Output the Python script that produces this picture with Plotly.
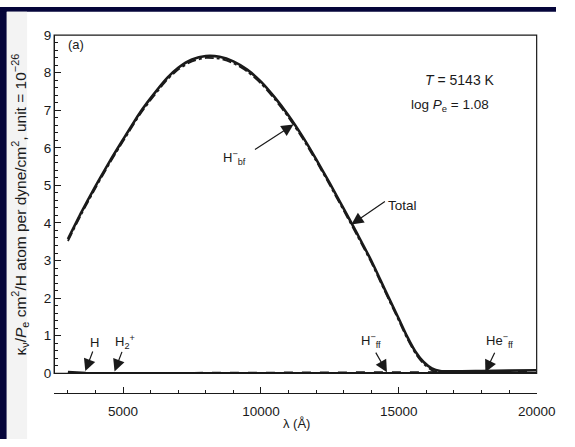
import plotly.graph_objects as go

# ---- data ----
wl_total = [3000, 3500, 4000, 4500, 5000, 5600, 6000, 6600, 7000, 7500, 8000, 8500, 9000, 9500,
            10000, 10500, 11000, 11500, 12000, 12500, 13000, 13500, 14000, 14500, 15000, 15300,
            15600, 15900, 16200, 16500, 17000, 18000, 19000, 20000]
k_total = [3.57, 4.30, 4.98, 5.62, 6.22, 6.92, 7.32, 7.86, 8.13, 8.35, 8.44, 8.42, 8.30, 8.08,
           7.76, 7.34, 6.86, 6.31, 5.70, 5.05, 4.38, 3.70, 3.00, 2.22, 1.45, 0.98,
           0.58, 0.30, 0.13, 0.06, 0.05, 0.06, 0.07, 0.08]

wl_hbf = [3000, 3500, 4000, 4500, 5000, 5600, 6000, 6600, 7000, 7500, 8000, 8500, 9000, 9500,
          10000, 10500, 11000, 11500, 12000, 12500, 13000, 13500, 14000, 14500, 15000, 15300,
          15600, 15900, 16200, 16450]
k_hbf = [3.52, 4.25, 4.93, 5.57, 6.17, 6.87, 7.27, 7.81, 8.08, 8.30, 8.39, 8.37, 8.25, 8.03,
         7.71, 7.29, 6.81, 6.26, 5.65, 5.00, 4.33, 3.65, 2.95, 2.17, 1.40, 0.93,
         0.53, 0.25, 0.08, 0.0]

wl_h = [3000, 3640, 3650, 8200, 8210, 20000]
k_h = [0.035, 0.03, 0.012, 0.008, 0.004, 0.006]

wl_h2p = [3000, 8000, 14000, 20000]
k_h2p = [0.012, 0.010, 0.008, 0.006]

wl_hff = [3000, 8000, 14000, 17000, 20000]
k_hff = [0.005, 0.012, 0.025, 0.035, 0.045]

wl_heff = [3000, 10000, 20000]
k_heff = [0.001, 0.003, 0.008]

x_ticks = [5000, 10000, 15000, 20000]
y_ticks = [0, 1, 2, 3, 4, 5, 6, 7, 8, 9]

# ---- figure ----
W, H = 575, 447
FONT = "Liberation Sans, Arial, Helvetica, sans-serif"
INK = "#1a1a1a"

fig = go.Figure()
fig.add_trace(go.Scatter(x=wl_h, y=k_h, mode="lines", line=dict(color=INK, width=2.2), hoverinfo="skip"))
fig.add_trace(go.Scatter(x=wl_h2p, y=k_h2p, mode="lines", line=dict(color=INK, width=1.2, dash="dot"), hoverinfo="skip"))
fig.add_trace(go.Scatter(x=wl_hff, y=k_hff, mode="lines", line=dict(color=INK, width=1.6, dash="dash"), hoverinfo="skip"))
fig.add_trace(go.Scatter(x=wl_heff, y=k_heff, mode="lines", line=dict(color=INK, width=1.2), hoverinfo="skip"))
fig.add_trace(go.Scatter(x=wl_hbf, y=k_hbf, mode="lines",
                         line=dict(color=INK, width=1.8, dash="dashdot", shape="spline", smoothing=0.6),
                         hoverinfo="skip"))
fig.add_trace(go.Scatter(x=wl_total, y=k_total, mode="lines",
                         line=dict(color=INK, width=2.6, shape="spline", smoothing=0.6),
                         hoverinfo="skip"))

xl, xr = 56 / W, 555 / W
yb, yt = 1 - 379 / H, 1 - 29 / H
xaxis_pos = 1 - 399 / H

fig.update_layout(
    width=W, height=H,
    margin=dict(l=0, r=0, t=0, b=0),
    paper_bgcolor="white", plot_bgcolor="white",
    showlegend=False,
    font=dict(family=FONT, size=13, color=INK),
    xaxis=dict(domain=[xl, xr], range=[2500, 20000], anchor="free", position=xaxis_pos,
               tickvals=x_ticks, tickformat="d", ticks="inside", ticklen=6, tickwidth=1, tickcolor=INK,
               minor=dict(dtick=1000, tick0=0, ticks="inside", ticklen=3, tickcolor=INK),
               showline=True, linecolor=INK, linewidth=1.2, showgrid=False, zeroline=False,
               ticklabelstandoff=6, tickfont=dict(size=13.5, color=INK)),
    yaxis=dict(domain=[yb, yt], range=[0, 9], anchor="free", position=xl,
               tickvals=y_ticks, ticks="inside", ticklen=6, tickwidth=1, tickcolor=INK,
               minor=dict(dtick=0.2, tick0=0, ticks="inside", ticklen=3, tickcolor=INK),
               mirror="ticks", showline=True, linecolor=INK, linewidth=1.2,
               showgrid=False, zeroline=False, tickfont=dict(size=13.5, color=INK)),
)

# plot frame
fig.add_shape(type="rect", xref="x domain", yref="y domain", x0=0, x1=1, y0=0, y1=1,
              line=dict(color=INK, width=1.2), fillcolor="rgba(0,0,0,0)", layer="above")

# navy border and light strip
fig.add_shape(type="rect", xref="paper", yref="paper", x0=0, x1=7 / W, y0=0, y1=1,
              line=dict(width=0), fillcolor="#05053a", layer="below")
fig.add_shape(type="rect", xref="paper", yref="paper", x0=0, x1=1, y0=1 - 5 / H, y1=1,
              line=dict(width=0), fillcolor="#05053a", layer="below")
fig.add_shape(type="rect", xref="paper", yref="paper", x0=7 / W, x1=28 / W, y0=0, y1=1 - 5 / H,
              line=dict(width=0), fillcolor="#f3f3f3", layer="below")

def txt(x, y, s, size=13, xanchor="center", angle=0):
    fig.add_annotation(xref="paper", yref="paper", x=x / W, y=1 - y / H, text=s, showarrow=False,
                       font=dict(family=FONT, size=size, color=INK), xanchor=xanchor, yanchor="middle",
                       textangle=angle)

def arrow(xd, yd, dx, dy):
    fig.add_annotation(x=xd, y=yd, xref="x", yref="y", ax=dx, ay=dy, text="", showarrow=True,
                       arrowhead=2, arrowsize=2, arrowwidth=1.2, arrowcolor=INK, standoff=0)

# axis titles
txt(21, 204, "κ<sub>ν</sub>/<i>P</i><sub>e</sub> cm<sup>2</sup>/H atom per dyne/cm<sup>2</sup>, unit = 10<sup>−26</sup>",
    size=15.5, angle=-90)
txt(307, 431, "λ (Å)", size=13)

# panel texts
txt(79, 39, "(a)", size=13)
txt(476, 76, "<i>T</i> = 5143 K", size=14)
txt(465, 102, "log <i>P</i><sub>e</sub> = 1.08", size=13.5)

# curve labels + arrows
txt(242, 156, "H<sup>−</sup><sub>bf</sub>", size=13)
arrow(11180, 6.62, -40, 26)
txt(399, 205, "Total", size=13.5, xanchor="left")
arrow(13280, 3.96, 35, -24)
txt(98, 347, "H", size=13)
arrow(3630, 0.06, 8, -21)
txt(129, 347, "H<sub>2</sub><sup>+</sup>", size=13)
arrow(4690, 0.05, 8, -21)
txt(384, 346, "H<sup>−</sup><sub>ff</sub>", size=13)
arrow(14570, 0.03, -12, -21)
txt(517, 346, "He<sup>−</sup><sub>ff</sub>", size=13)
arrow(18140, 0.03, 10, -21)

fig.write_html("out.html")
